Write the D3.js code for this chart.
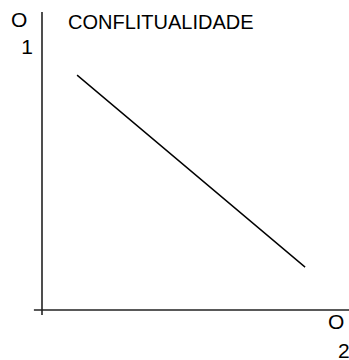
<!DOCTYPE html>
<html><head><meta charset="utf-8">
<script src="https://cdn.jsdelivr.net/npm/d3@7"></script>
<style>html,body{margin:0;padding:0;background:#fff;overflow:hidden}</style>
</head><body>
<script>
const title = "CONFLITUALIDADE";
const axisLabels = [["O","1"],["O","2"]];
const lineX = [11.7, 87.7];
const lineY = [78.3, 14.3];

const W = 349, H = 360;
const svg = d3.select("body").append("svg").attr("width", W).attr("height", H)
  .style("font-family", "'Liberation Sans', Arial, sans-serif");
const x = d3.scaleLinear().domain([0, 100]).range([42, 342]);
const y = d3.scaleLinear().domain([0, 100]).range([310, 10]);

// axes
svg.append("line").attr("x1", x(0)).attr("x2", x(0)).attr("y1", y(99.3)).attr("y2", y(-1.7))
  .attr("stroke", "#222").attr("stroke-width", 1.6);
svg.append("line").attr("x1", x(-2.7)).attr("x2", W).attr("y1", y(0)).attr("y2", y(0))
  .attr("stroke", "#222").attr("stroke-width", 1.6);

// line
const pts = lineX.map((v, i) => [v, lineY[i]]);
svg.append("path").datum(pts)
  .attr("d", d3.line().x(d => x(d[0])).y(d => y(d[1])))
  .attr("fill", "none").attr("stroke", "#000").attr("stroke-width", 1.4);

// labels
svg.append("text").attr("x", 11).attr("y", 27).attr("font-size", 21).text(axisLabels[0][0]);
svg.append("text").attr("x", 33).attr("y", 54).attr("text-anchor", "end").attr("font-size", 21).text(axisLabels[0][1]);
svg.append("text").attr("x", 328).attr("y", 329).attr("font-size", 21).text(axisLabels[1][0]);
svg.append("text").attr("x", 338).attr("y", 358).attr("font-size", 21).text(axisLabels[1][1]);
svg.append("text").attr("x", 68).attr("y", 29).attr("font-size", 20).text(title);
</script>
</body></html>
